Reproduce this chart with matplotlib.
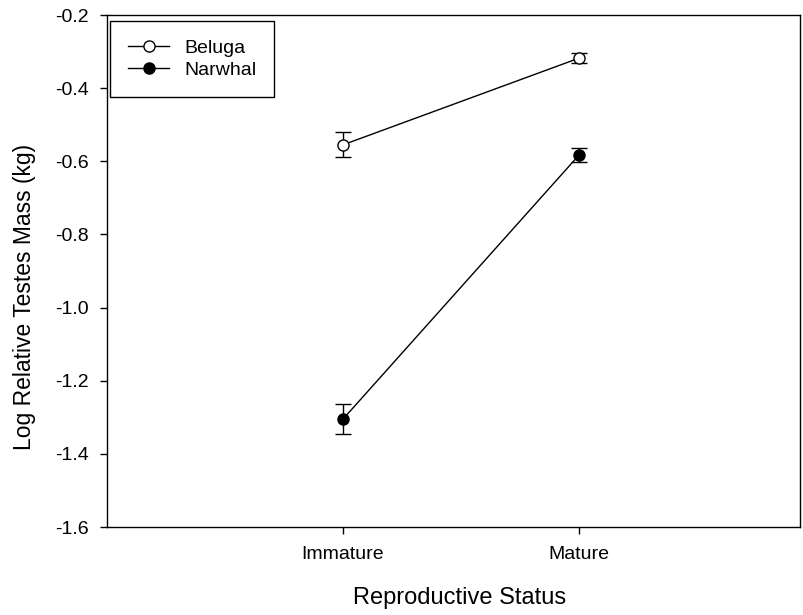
import matplotlib
matplotlib.use("Agg")
import matplotlib.pyplot as plt
from matplotlib.lines import Line2D

plt.rcParams['font.family'] = ['Liberation Sans', 'DejaVu Sans']

# Data
categories = ["Immature", "Mature"]
beluga_mean = [-0.555, -0.318]
beluga_err = [0.034, 0.014]
narwhal_mean = [-1.305, -0.583]
narwhal_err = [0.042, 0.020]
y_ticks = [-1.6, -1.4, -1.2, -1.0, -0.8, -0.6, -0.4, -0.2]

fig = plt.figure(figsize=(8.04, 6.15), dpi=100)
ax = fig.add_axes([107 / 804, 1 - 527 / 615, (800 - 107) / 804, (527 - 15) / 615])

x = [1, 2]
common = dict(color="black", lw=1.0, ecolor="black", elinewidth=1.0,
              capsize=5.5, capthick=1.0, markersize=8, markeredgewidth=1.0)
ax.errorbar(x, beluga_mean, yerr=beluga_err, marker="o",
            markerfacecolor="white", markeredgecolor="black", **common)
ax.errorbar(x, narwhal_mean, yerr=narwhal_err, marker="o",
            markerfacecolor="black", markeredgecolor="black", **common)

ax.set_xlim(0, (800 - 107) / 236)
ax.set_ylim(-1.6, -0.2)
ax.set_xticks(x)
ax.set_xticklabels(categories)
ax.set_yticks(y_ticks)
ax.set_yticklabels([f"{v:.1f}" for v in y_ticks])

ax.tick_params(axis="both", direction="out", length=5, width=1.0,
               labelsize=14, pad=8, color="black")
ax.tick_params(axis="x", pad=9)
for s in ax.spines.values():
    s.set_linewidth(1.0)
    s.set_color("black")

ax.set_xlabel("Reproductive Status", fontsize=17, va="center")
ax.set_ylabel("Log Relative Testes Mass (kg)", fontsize=16.5)
ax.xaxis.set_label_coords(0.509, -0.139)
ax.yaxis.set_label_coords(-0.1025, 0.449)

handles = [
    Line2D([], [], color="black", lw=1.0, marker="o", markersize=8,
           markerfacecolor="white", markeredgecolor="black", markeredgewidth=1.0),
    Line2D([], [], color="black", lw=1.0, marker="o", markersize=8,
           markerfacecolor="black", markeredgecolor="black", markeredgewidth=1.0),
]
leg = ax.legend(handles, ["Beluga", "Narwhal"], loc="upper left",
                bbox_to_anchor=(110 / 804, 1 - 21 / 615),
                bbox_transform=fig.transFigure, borderaxespad=0,
                fontsize=14, frameon=True, fancybox=False, edgecolor="black",
                framealpha=1, handlelength=2.1, handletextpad=0.75,
                labelspacing=0.2, borderpad=0.95)
leg.get_frame().set_linewidth(1.0)
fig.canvas.draw()
# widen the frame to the right so the box leaves room after the labels
leg.get_frame().set_width(273 - 110)

fig.savefig("out.png", dpi=100)
